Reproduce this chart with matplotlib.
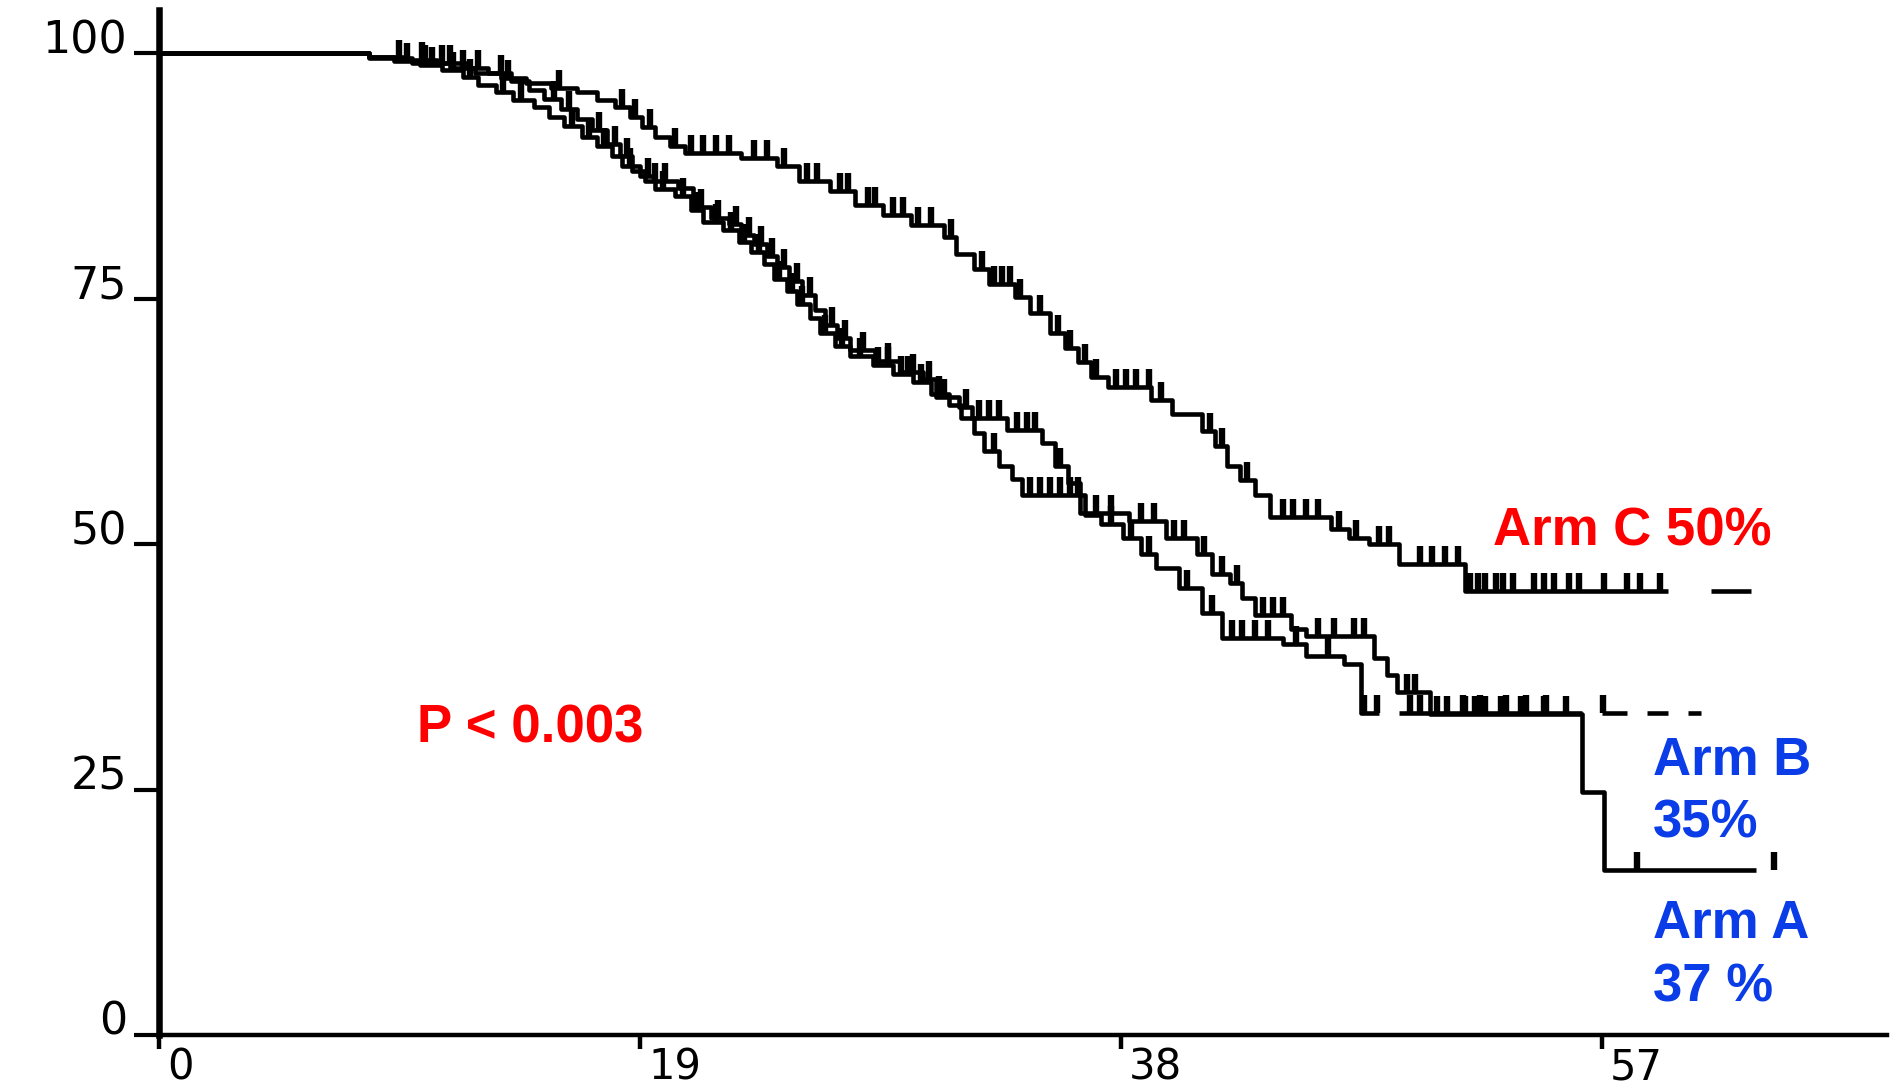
import numpy as np
import matplotlib
matplotlib.use("Agg")
import matplotlib.pyplot as plt
from matplotlib.transforms import ScaledTranslation

# Kaplan-Meier curves: time of each drop (months) and % surviving after it
arm_c_t = [8.3, 10.0, 11.5, 12.5, 13.5, 14.5, 15.5, 16.5, 17.3, 18.0,
           18.6, 19.1, 19.6, 20.2, 20.8, 23.0, 24.4, 25.3, 26.5, 27.5,
           28.6, 29.7, 31.0, 31.5, 32.2, 32.8, 33.8, 34.4, 35.2, 35.8,
           36.3, 36.8, 37.5, 39.2, 40.0, 41.2, 41.7, 42.2, 42.7, 43.3,
           43.9, 46.3, 47.0, 47.8, 49.0, 51.6]
arm_c_s = [99.5, 99.0, 98.5, 98.0, 97.5, 97.0, 96.5, 96.0, 95.2, 94.5,
           93.5, 92.5, 91.5, 90.5, 89.8, 89.3, 88.5, 87.0, 86.0, 84.5,
           83.5, 82.5, 81.3, 79.5, 78.0, 76.5, 75.2, 73.5, 71.5, 70.0,
           68.5, 67.0, 66.0, 64.7, 63.3, 61.5, 60.0, 58.0, 56.5, 55.0,
           52.8, 51.5, 50.6, 50.0, 48.0, 45.2]
arm_c_cens = [9.5, 10.5, 11.2, 12.0, 13.8, 15.8, 18.3, 18.8, 19.4, 20.4,
              21.0, 21.5, 22.0, 22.5, 23.5, 24.0, 24.7, 25.6, 26.0, 26.9,
              27.2, 28.0, 28.3, 29.0, 29.4, 30.0, 30.5, 31.3, 32.5, 33.0,
              33.3, 33.6, 34.0, 34.8, 35.5, 36.0, 36.6, 37.0, 37.8, 38.2,
              38.6, 39.1, 39.6, 41.5, 42.0, 43.0, 44.4, 44.8, 45.3, 45.8,
              46.6, 47.3, 48.2, 48.6, 49.8, 50.3, 50.8, 51.3, 51.8, 52.1,
              52.4, 52.8, 53.1, 53.5, 54.3, 54.7, 55.1, 55.7, 56.1, 57.1,
              58.0, 58.5, 59.3]
arm_c_end = 59.6
arm_c_tail = [(61.3, 62.9)]

arm_b_t = [8.3, 9.3, 10.3, 11.2, 12.0, 12.6, 13.3, 14.0, 14.8, 15.4,
           16.0, 16.7, 17.3, 17.9, 18.3, 19.0, 19.6, 20.4, 21.0, 21.5,
           22.3, 22.9, 23.4, 23.9, 24.3, 24.8, 25.2, 25.7, 26.1, 26.7,
           27.3, 28.2, 29.0, 29.8, 30.5, 31.2, 31.7, 32.2, 32.6, 33.2,
           33.7, 34.1, 36.6, 37.2, 38.1, 38.8, 39.4, 40.3, 41.2, 42.0,
           44.4, 45.3, 46.8, 47.5]
arm_b_s = [99.6, 99.2, 98.8, 98.3, 97.6, 96.8, 96.0, 95.2, 94.5, 93.5,
           92.6, 91.5, 90.5, 89.5, 88.5, 87.5, 86.2, 85.5, 84.0, 82.8,
           82.0, 80.8, 79.7, 78.5, 77.0, 75.8, 74.5, 73.0, 71.5, 70.2,
           69.2, 68.2, 67.3, 66.5, 65.3, 64.2, 62.8, 61.3, 59.5, 58.0,
           56.6, 55.0, 53.0, 52.0, 50.6, 49.0, 47.6, 45.5, 43.0, 40.4,
           39.8, 38.6, 37.8, 32.8]
arm_b_cens = [9.8, 10.8, 11.6, 12.3, 13.6, 14.3, 16.3, 17.0, 17.6, 18.6,
              19.3, 19.9, 20.7, 21.3, 22.0, 22.6, 23.1, 23.7, 24.5, 25.0,
              25.4, 26.3, 27.0, 27.7, 28.4, 28.8, 29.3, 29.6, 30.1, 30.8,
              33.0, 34.4, 34.8, 35.2, 35.6, 36.0, 36.3, 37.6, 38.4, 39.1,
              40.6, 41.6, 42.4, 42.8, 43.3, 43.8, 44.9, 46.2, 47.6, 48.1,
              49.4, 49.8, 51.5, 52.2, 53.2, 54.0, 54.8, 57.05]
arm_b_end = 48.2
arm_b_tail = [(49.0, 56.2), (57.0, 58.0), (58.8, 59.6), (60.4, 60.9)]

arm_a_t = [8.3, 9.8, 11.0, 12.2, 13.0, 13.9, 14.6, 15.2, 15.9, 16.5,
           17.1, 17.7, 18.2, 18.7, 19.2, 20.5, 21.1, 21.8, 22.5, 23.0,
           23.5, 24.0, 24.4, 24.9, 25.4, 25.9, 26.3, 26.8, 27.3, 28.3,
           29.3, 30.2, 30.7, 31.6, 32.1, 33.5, 34.9, 35.4, 35.9, 36.4,
           38.3, 39.8, 41.0, 41.6, 42.3, 42.8, 43.3, 44.7, 45.3, 48.0,
           48.5, 48.9, 50.2, 56.2, 57.1]
arm_a_s = [99.6, 99.3, 99.0, 98.5, 98.0, 97.2, 96.2, 95.3, 94.3, 93.3,
           92.2, 90.8, 89.5, 88.0, 87.0, 86.3, 84.3, 83.2, 82.6, 81.5,
           80.6, 79.3, 78.2, 76.8, 75.4, 73.8, 72.3, 71.0, 69.8, 68.6,
           67.5, 66.8, 65.0, 64.0, 62.8, 61.6, 60.3, 58.0, 56.2, 53.2,
           52.3, 50.6, 49.0, 47.0, 46.0, 44.5, 42.8, 41.3, 40.6, 38.4,
           36.7, 34.9, 32.7, 24.7, 16.8]
arm_a_cens = [10.4, 11.5, 12.6, 13.5, 15.6, 16.2, 17.4, 18.0, 18.5, 19.6,
              20.0, 21.4, 22.1, 22.8, 23.3, 23.8, 24.2, 24.7, 25.2, 25.7,
              26.6, 27.1, 27.8, 28.8, 29.8, 30.4, 31.0, 31.9, 32.4, 32.8,
              33.2, 33.9, 34.3, 34.6, 35.6, 37.0, 37.6, 38.8, 39.3, 40.1,
              40.5, 41.3, 42.0, 42.6, 43.6, 44.0, 44.4, 45.8, 46.4, 47.2,
              47.6, 49.3, 49.6, 50.5, 50.9, 51.6, 52.0, 52.4, 53.0, 53.8,
              54.7, 55.6, 58.4, 63.8]
arm_a_end = 63.1
arm_a_tail = []

x_ticks = [0, 19, 38, 57]
y_ticks = [0, 25, 50, 75, 100]

notes = ["Arm C 50%", "P < 0.003", "Arm B", "35%", "Arm A", "37 %"]
note_x = [52.7, 10.2, 59.0, 59.0, 59.0, 59.0]
note_y = [49.9, 29.8, 26.5, 20.1, 9.9, 3.4]
note_col = ["#ff0000", "#ff0000", "#0a3ce8", "#0a3ce8", "#0a3ce8", "#0a3ce8"]


def surv_at(t, s, x):
    idx = np.searchsorted(t, x, side="right") - 1
    s = np.asarray(s)
    return np.where(idx >= 0, s[np.clip(idx, 0, None)], 100.0)


fig = plt.figure(figsize=(18.99, 10.85), dpi=100)
ax = fig.add_axes([0.0837, 0.0461, 0.90995, 0.9447])

arms = [(arm_c_t, arm_c_s, arm_c_cens, arm_c_end, arm_c_tail),
        (arm_b_t, arm_b_s, arm_b_cens, arm_b_end, arm_b_tail),
        (arm_a_t, arm_a_s, arm_a_cens, arm_a_end, arm_a_tail)]

for t, s, cens, end, tail in arms:
    xs = [0] + t + [end]
    ys = [100] + s + [s[-1]]
    ax.step(xs, ys, where="post", color="black", lw=3.3, solid_capstyle="butt")
    ax.plot(cens, surv_at(t, s, cens), ls="none", marker=2, ms=13,
            mew=4.6, color="black")
    for x0, x1 in tail:
        ax.hlines(s[-1], x0, x1, color="black", lw=3.3)

ax.set_xlim(0, 68.26)
ax.set_ylim(0, 104.4)

for side in ["top", "right"]:
    ax.spines[side].set_visible(False)
ax.spines["left"].set_linewidth(4.7)
ax.spines["bottom"].set_linewidth(3.2)

ax.set_xticks(x_ticks)
ax.set_xticklabels([str(v) for v in x_ticks])
ax.set_yticks(y_ticks)
ax.set_yticklabels([str(v) for v in y_ticks])
ax.tick_params(axis="x", length=10, width=3.2, pad=22, labelsize=30)
ax.tick_params(axis="y", length=18, width=3.0, pad=5, labelsize=32)

shift = ScaledTranslation(6 / 72, 0, fig.dpi_scale_trans)
for tk in ax.xaxis.get_major_ticks():
    tk.label1.set_horizontalalignment("left")
    tk.label1.set_verticalalignment("baseline")
    tk.label1.set_transform(tk.label1.get_transform() + shift)
for tk in ax.yaxis.get_major_ticks():
    tk.label1.set_verticalalignment("baseline")

for txt, x, y, c in zip(notes, note_x, note_y, note_col):
    ax.text(x, y, txt, color=c, fontsize=38, fontweight="bold",
            family="Liberation Sans", ha="left", va="baseline")

fig.savefig("out.png", dpi=100)
